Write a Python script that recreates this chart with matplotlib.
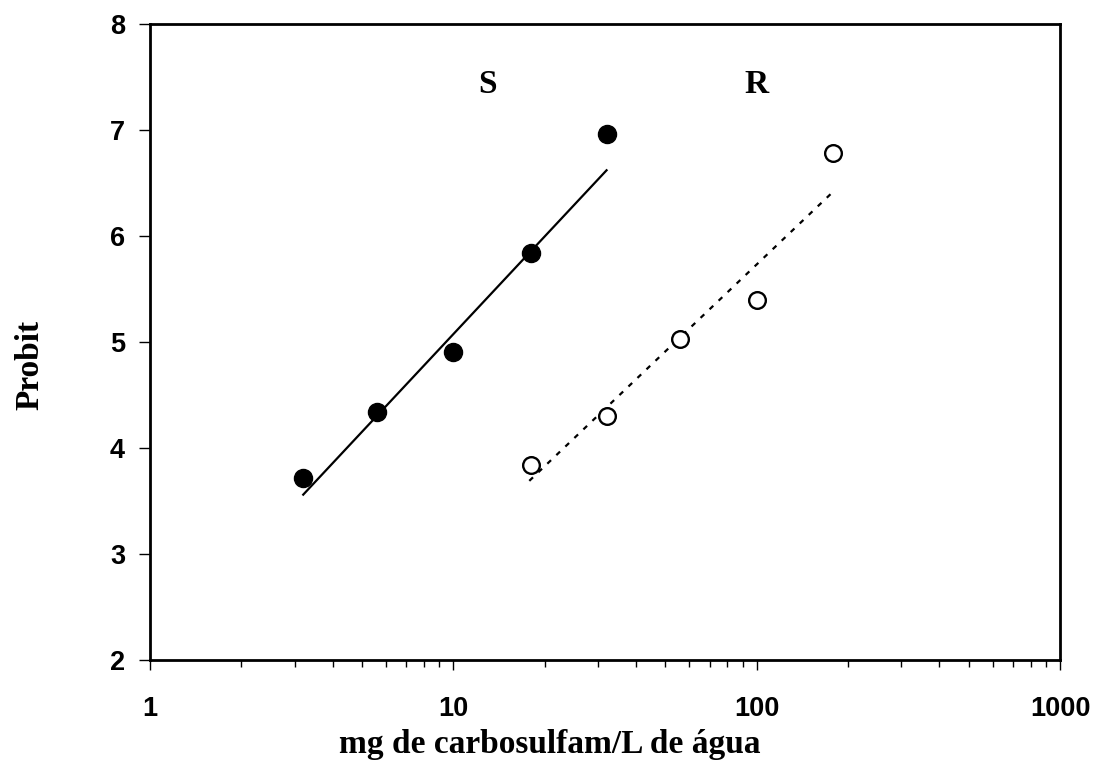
import numpy as np
import matplotlib.pyplot as plt
from matplotlib.ticker import LogLocator, FixedLocator, NullFormatter

# susceptible (S) population
s_dose = [3.2, 5.6, 10, 18, 32]
s_probit = [3.72, 4.34, 4.91, 5.84, 6.96]
s_line_dose = [3.2, 32]
s_line_probit = [3.56, 6.62]

# resistant (R) population
r_dose = [18, 32, 56, 100, 179]
r_probit = [3.84, 4.30, 5.03, 5.40, 6.78]
r_line_dose = [17.8, 179]
r_line_probit = [3.69, 6.42]

x_ticks = [1, 10, 100, 1000]
y_ticks = [2, 3, 4, 5, 6, 7, 8]

fig = plt.figure(figsize=(10.94, 7.67), dpi=100)
ax = fig.add_axes([150 / 1094, 107 / 767, 910 / 1094, 636 / 767])

ax.plot(s_line_dose, s_line_probit, color="black", lw=1.6)
ax.plot(r_line_dose, r_line_probit, color="black", lw=1.6, dashes=(2.3, 3.3))
ax.plot(s_dose, s_probit, "o", color="black", ms=13, zorder=3)
ax.plot(r_dose, r_probit, "o", mfc="white", mec="black", mew=1.7, ms=12, zorder=3)

ax.set_xscale("log")
ax.set_xlim(1, 1000)
ax.set_ylim(2, 8)
ax.xaxis.set_major_locator(FixedLocator(x_ticks))
ax.xaxis.set_minor_locator(LogLocator(base=10, subs=np.arange(2, 10)))
ax.xaxis.set_minor_formatter(NullFormatter())
ax.set_xticklabels([str(v) for v in x_ticks])
ax.set_yticks(y_ticks)
ax.set_yticklabels([str(v) for v in y_ticks])

for sp in ax.spines.values():
    sp.set_linewidth(2)

ax.tick_params(axis="x", which="major", direction="out", length=7, width=1, pad=19,
               labelsize=19.5)
ax.tick_params(axis="x", which="minor", direction="out", length=5, width=1)
ax.tick_params(axis="y", which="major", direction="out", length=8, width=1, pad=10,
               labelsize=19.5)
for lab in ax.get_xticklabels() + ax.get_yticklabels():
    lab.set_fontweight("bold")
    lab.set_fontfamily("Liberation Sans")

ax.text(13, 7.43, "S", ha="center", va="center", fontsize=24, fontweight="bold",
        family="Liberation Serif")
ax.text(100, 7.43, "R", ha="center", va="center", fontsize=24, fontweight="bold",
        family="Liberation Serif")

fig.text(549.5 / 1094, (767 - 745) / 767, "mg de carbosulfam/L de água", ha="center",
         va="center", fontsize=24, fontweight="bold", family="Liberation Serif")
fig.text(30 / 1094, (767 - 365) / 767, "Probit", ha="center", va="center",
         rotation=90, fontsize=24, fontweight="bold", family="Liberation Serif")

fig.savefig("out.png", dpi=100)
